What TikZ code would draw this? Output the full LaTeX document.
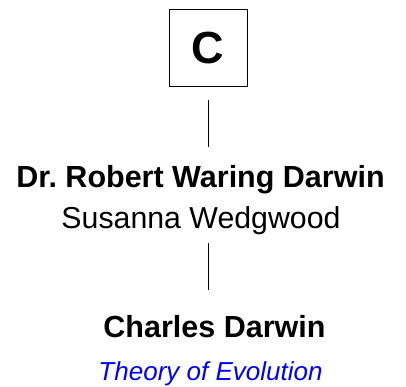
\documentclass[tikz,border=0pt]{standalone}
\usepackage{fontspec}
\setmainfont{Liberation Sans}
\frenchspacing
\begin{document}
\begin{tikzpicture}[x=1pt,y=-1pt,
  namebold/.style={font=\fontsize{30.5}{36}\selectfont\bfseries, inner sep=0pt, anchor=base},
  nameplain/.style={font=\fontsize{30.3}{36}\selectfont, inner sep=0pt, anchor=base},
  workstyle/.style={font=\fontsize{26}{31}\selectfont\itshape, text=blue, inner sep=0pt, anchor=base},
  initialbox/.style={draw=black, line width=1pt, minimum width=78pt, minimum height=77pt, inner sep=0pt, font=\fontsize{45}{50}\selectfont\bfseries},
  link/.style={draw=black, line width=1pt}]
\useasboundingbox (0,0) rectangle (406,387);
\node[initialbox] (c) at (208,48.5) {C};
\node[namebold] (father) at (200.5,187) {Dr.\ Robert Waring Darwin};
\node[nameplain] (mother) at (201,228) {Susanna Wedgwood};
\node[namebold] (child) at (214.5,337) {Charles Darwin};
\node[workstyle] (work) at (210.5,380) {Theory of Evolution};
\draw[link, shorten <=13pt, shorten >=18pt] (c.south) -- (c.south |- father.north);
\draw[link, shorten <=8.5pt, shorten >=25pt] (mother.south -| c.south) -- (child.north -| c.south);
\end{tikzpicture}
\end{document}
